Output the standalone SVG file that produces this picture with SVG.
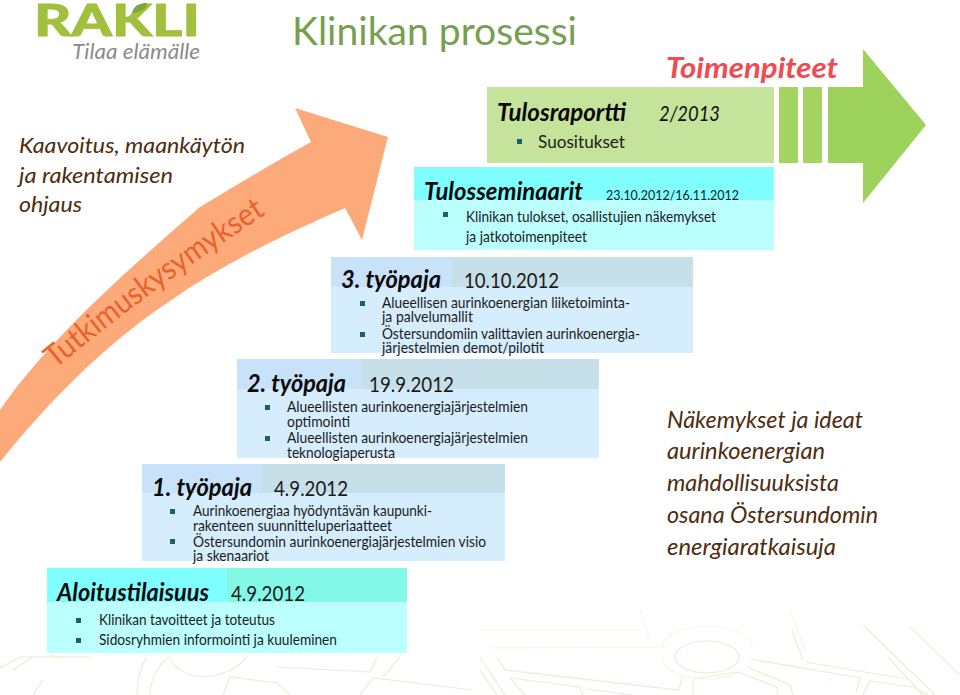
<svg xmlns="http://www.w3.org/2000/svg" width="960" height="695" viewBox="0 0 960 695">
<style>
text{font-family:"Lato","Liberation Sans",sans-serif;fill:#111}
.h{font-weight:700;font-style:italic;font-size:24px;fill:#0a0a0a}
.d{font-size:22px;fill:#1a1a1a}
.b{font-size:15px;fill:#1c1c1c}
.s{font-style:italic;font-size:22px;fill:#4f2c0e}
.wm{fill:none;stroke:#f0ebd2;stroke-width:1.2}
.bl{fill:#1d5f6e}
.blue{fill:#d5edfc}.bl1{fill:#c8e2fa}.bl2{fill:#c6dfe9}
.cy{fill:#bbffff}.cy1{fill:#7fffff}
</style>
<rect width="960" height="695" fill="#fff"/>
<g id="watermark">
<path class="wm" d="M497 657L505 670L679 690L682 677M510 678L580 687L583 695M510 678L525 695M586 689L633 695M693 680V695M693 679L738 672L777 687L778 695M747 667L790 685L793 695M750 659L860 678L856 692M805 662L907 679M803 660L792 630M870 681L913 687L928 695M870 681L863 695M863 625L935 695M888 657L923 695M910 627L960 675M480 657L505 695M480 670L497 695"/>
<ellipse class="wm" cx="707" cy="657" rx="32" ry="16"/>
<path class="wm" opacity=".5" d="M492 648L667 647M662 648A45 22 0 0 1 752 648M662 657A45 22 0 0 0 740 672M480 630L640 630M640 610L650 640M790 610L805 650"/>
<path class="wm" d="M0 668L20 657L90 657M13 670L33 657H90M50 655L63 658M43 680L33 695M137 695C137 670 147 657 147 657M150 695C150 675 165 657 170 657M170 660C187 685 227 680 247 657M223 695L230 677L277 683L290 695M277 667L370 672L377 657M383 677L400 657M360 695L373 678L473 690"/>
</g>
<g id="logo">
<text x="34" y="36" textLength="166" lengthAdjust="spacingAndGlyphs" style="font-size:44px;font-weight:900;fill:#a2c03e;stroke:#a2c03e;stroke-width:.8">RAKLI</text>
<path d="M132 13Q134 3 147 3Q146 12 132 13Z" fill="#7ea63a"/>
<text x="72" y="59" textLength="128" lengthAdjust="spacingAndGlyphs" style="font-size:21px;font-style:italic;fill:#8a8c8e">Tilaa elämälle</text>
</g>
<g id="title"><text x="292" y="45" textLength="285" lengthAdjust="spacingAndGlyphs" style="font-size:38px;fill:#76a04f">Klinikan prosessi</text></g>
<g id="side-left">
<text class="s" x="19" y="153" textLength="226" lengthAdjust="spacingAndGlyphs">Kaavoitus, maankäytön</text>
<text class="s" x="19" y="183" textLength="154" lengthAdjust="spacingAndGlyphs">ja rakentamisen</text>
<text class="s" x="19" y="212" textLength="63" lengthAdjust="spacingAndGlyphs">ohjaus</text>
</g>
<g id="research-arrow">
<path d="M0 410C45 345 110 285 200 207C240 183 275 162 311 142L295 108L388 137L362 240L345 208C290 232 225 262 167 303C105 345 50 400 0 462Z" fill="#fdaa7b"/>
<path id="tp" d="M55 369Q150 290 266 214" fill="none"/>
<text style="font-size:31px;fill:#e9622a"><textPath href="#tp" textLength="262" lengthAdjust="spacingAndGlyphs">Tutkimuskysymykset</textPath></text>
</g>
<g id="action-arrow">
<rect x="487" y="87" width="287" height="76" fill="#c5e39b"/>
<rect x="779" y="87" width="19" height="76" fill="#a4d563"/>
<rect x="803" y="87" width="19" height="76" fill="#a4d563"/>
<path d="M828 87H863V49L926 125L863 203V163H828Z" fill="#9dd35c"/>
<text x="666" y="78" textLength="172" lengthAdjust="spacingAndGlyphs" style="font-size:29px;font-weight:700;font-style:italic;fill:#f04b50">Toimenpiteet</text>
</g>
<g id="tulosraportti">
<text class="h" x="497" y="121" textLength="129" lengthAdjust="spacingAndGlyphs">Tulosraportti</text>
<text x="659" y="121" textLength="61" lengthAdjust="spacingAndGlyphs" style="font-size:21px;font-style:italic;fill:#111">2/2013</text>
<rect class="bl" x="517" y="139" width="5" height="5"/>
<text x="538" y="148" textLength="87" lengthAdjust="spacingAndGlyphs" style="font-size:18px;fill:#1c1c1c">Suositukset</text>
</g>
<g id="tulosseminaarit">
<rect class="cy" x="414" y="167" width="360" height="83"/><rect class="cy1" x="414" y="167" width="360" height="33"/>
<text class="h" x="424" y="200" textLength="159" lengthAdjust="spacingAndGlyphs">Tulosseminaarit</text>
<text x="606" y="200" textLength="133" lengthAdjust="spacingAndGlyphs" style="font-size:14px;fill:#1a1a1a">23.10.2012/16.11.2012</text>
<rect class="bl" x="443" y="212" width="5" height="5"/>
<text class="b" x="466" y="222" textLength="250" lengthAdjust="spacingAndGlyphs">Klinikan tulokset, osallistujien näkemykset</text>
<text class="b" x="466" y="242" textLength="121" lengthAdjust="spacingAndGlyphs">ja jatkotoimenpiteet</text>
</g>
<g id="tyopaja3">
<rect class="blue" x="331" y="257" width="362" height="96"/><rect class="bl2" x="331" y="257" width="362" height="30"/><rect class="bl1" x="331" y="257" width="121" height="30"/>
<text class="h" x="341" y="288" textLength="100" lengthAdjust="spacingAndGlyphs">3. työpaja</text>
<text class="d" x="464" y="288" textLength="95" lengthAdjust="spacingAndGlyphs">10.10.2012</text>
<rect class="bl" x="360" y="301" width="5" height="5"/><rect class="bl" x="360" y="332" width="5" height="5"/>
<text class="b" x="382" y="308" textLength="248" lengthAdjust="spacingAndGlyphs">Alueellisen aurinkoenergian liiketoiminta-</text>
<text class="b" x="382" y="322" textLength="91" lengthAdjust="spacingAndGlyphs">ja palvelumallit</text>
<text class="b" x="382" y="339" textLength="258" lengthAdjust="spacingAndGlyphs">Östersundomiin valittavien aurinkoenergia-</text>
<text class="b" x="382" y="353" textLength="162" lengthAdjust="spacingAndGlyphs">järjestelmien demot/pilotit</text>
</g>
<g id="tyopaja2">
<rect class="blue" x="237" y="359" width="362" height="99"/><rect class="bl2" x="237" y="359" width="362" height="30"/><rect class="bl1" x="237" y="359" width="125" height="30"/>
<text class="h" x="247" y="392" textLength="99" lengthAdjust="spacingAndGlyphs">2. työpaja</text>
<text class="d" x="369" y="392" textLength="85" lengthAdjust="spacingAndGlyphs">19.9.2012</text>
<rect class="bl" x="265" y="405" width="5" height="5"/><rect class="bl" x="265" y="436" width="5" height="5"/>
<text class="b" x="287" y="412" textLength="241" lengthAdjust="spacingAndGlyphs">Alueellisten aurinkoenergiajärjestelmien</text>
<text class="b" x="287" y="427" textLength="63" lengthAdjust="spacingAndGlyphs">optimointi</text>
<text class="b" x="287" y="443" textLength="241" lengthAdjust="spacingAndGlyphs">Alueellisten aurinkoenergiajärjestelmien</text>
<text class="b" x="287" y="458" textLength="108" lengthAdjust="spacingAndGlyphs">teknologiaperusta</text>
</g>
<g id="tyopaja1">
<rect class="blue" x="142" y="464" width="363" height="97"/><rect class="bl2" x="142" y="464" width="363" height="29"/><rect class="bl1" x="142" y="464" width="120" height="29"/>
<text class="h" x="152" y="496" textLength="100" lengthAdjust="spacingAndGlyphs">1. työpaja</text>
<text class="d" x="274" y="496" textLength="74" lengthAdjust="spacingAndGlyphs">4.9.2012</text>
<rect class="bl" x="170" y="509" width="5" height="5"/><rect class="bl" x="170" y="539" width="5" height="5"/>
<text class="b" x="193" y="516" textLength="239" lengthAdjust="spacingAndGlyphs">Aurinkoenergiaa hyödyntävän kaupunki-</text>
<text class="b" x="193" y="531" textLength="199" lengthAdjust="spacingAndGlyphs">rakenteen suunnitteluperiaatteet</text>
<text class="b" x="193" y="547" textLength="293" lengthAdjust="spacingAndGlyphs">Östersundomin aurinkoenergiajärjestelmien visio</text>
<text class="b" x="193" y="561" textLength="76" lengthAdjust="spacingAndGlyphs">ja skenaariot</text>
</g>
<g id="aloitustilaisuus">
<rect class="cy" x="47" y="568" width="360" height="85"/><rect x="47" y="568" width="360" height="34" fill="#84f8e6"/><rect class="cy1" x="47" y="568" width="180" height="34"/>
<text class="h" x="57" y="601" textLength="152" lengthAdjust="spacingAndGlyphs">Aloitustilaisuus</text>
<text class="d" x="231" y="601" textLength="74" lengthAdjust="spacingAndGlyphs">4.9.2012</text>
<rect class="bl" x="76" y="618" width="5" height="5"/><rect class="bl" x="76" y="638" width="5" height="5"/>
<text class="b" x="99" y="625" textLength="176" lengthAdjust="spacingAndGlyphs">Klinikan tavoitteet ja toteutus</text>
<text class="b" x="99" y="645" textLength="238" lengthAdjust="spacingAndGlyphs">Sidosryhmien informointi ja kuuleminen</text>
</g>
<g id="side-right">
<text class="s" style="font-size:23px" x="667" y="428" textLength="196" lengthAdjust="spacingAndGlyphs">Näkemykset ja ideat</text>
<text class="s" style="font-size:23px" x="667" y="459" textLength="158" lengthAdjust="spacingAndGlyphs">aurinkoenergian</text>
<text class="s" style="font-size:23px" x="667" y="491" textLength="172" lengthAdjust="spacingAndGlyphs">mahdollisuuksista</text>
<text class="s" style="font-size:23px" x="667" y="523" textLength="211" lengthAdjust="spacingAndGlyphs">osana Östersundomin</text>
<text class="s" style="font-size:23px" x="667" y="555" textLength="169" lengthAdjust="spacingAndGlyphs">energiaratkaisuja</text>
</g>
</svg>
